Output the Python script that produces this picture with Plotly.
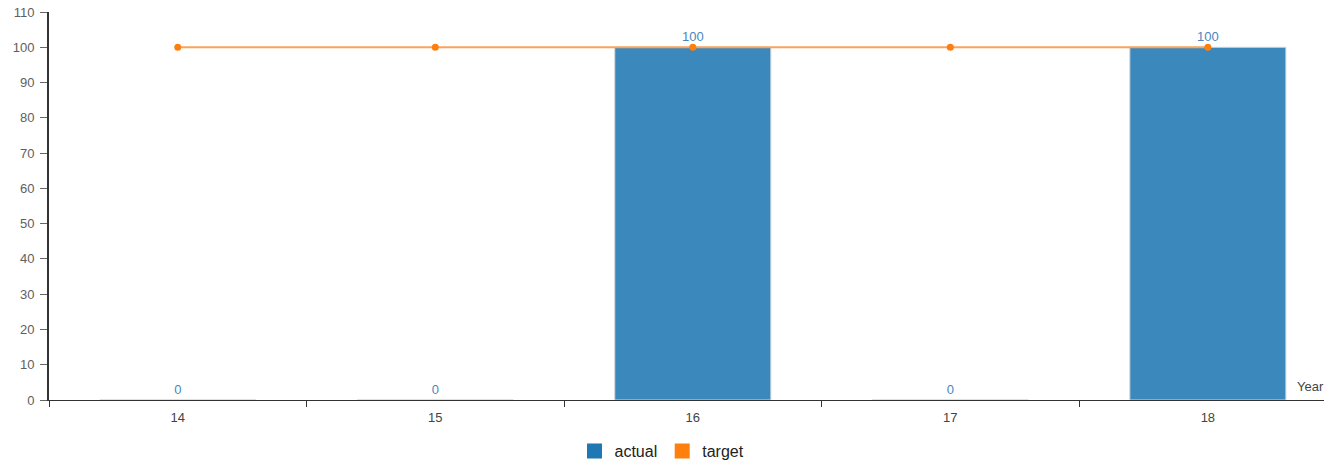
import plotly.graph_objects as go

# Yearly actual vs. target values
years = ["14", "15", "16", "17", "18"]
actual = [0, 0, 100, 0, 100]
target = [100, 100, 100, 100, 100]

BAR_BLUE = "#3b88bd"
LEGEND_BLUE = "#1f77b4"
ORANGE = "#ff7f0e"
LABEL_BLUE = "#4a86bd"
FONT = "Liberation Sans, Arial, sans-serif"

fig = go.Figure()

fig.add_trace(go.Bar(
    x=years, y=actual, name="actual",
    marker=dict(color=BAR_BLUE, line=dict(color="#cfd6dc", width=1)),
    width=0.606,
    text=[str(v) for v in actual], textposition="outside",
    textfont=dict(color=LABEL_BLUE, size=13, family=FONT),
    cliponaxis=False, showlegend=False,
))

fig.add_trace(go.Scatter(
    x=years, y=target, name="target", mode="lines+markers",
    line=dict(color="#fca35a", width=1.8),
    marker=dict(color=ORANGE, size=7),
    cliponaxis=False, showlegend=False,
))

# Legend entries drawn as square swatches
for name, color in (("actual", LEGEND_BLUE), ("target", ORANGE)):
    fig.add_trace(go.Scatter(
        x=[years[0]], y=[None], name=name, mode="markers",
        marker=dict(color=color, symbol="square", size=15),
    ))

fig.update_layout(
    width=1324, height=466,
    margin=dict(l=49, r=0, t=12, b=66),
    plot_bgcolor="white", paper_bgcolor="white",
    barmode="overlay",
    font=dict(family=FONT, size=13, color="#555"),
    showlegend=True,
    legend=dict(orientation="h", xref="container", yref="container",
                x=0.5, xanchor="center", y=0.032, yanchor="middle",
                font=dict(size=16, color="#222", family=FONT),
                itemwidth=30, bgcolor="rgba(0,0,0,0)"),
    xaxis=dict(type="category", range=[-0.5, 4.451],
               showline=True, linecolor="#333", linewidth=1,
               ticks="outside", tickson="boundaries", ticklen=6,
               tickcolor="#333", showgrid=False, zeroline=False,
               ticklabelstandoff=5,
               tickfont=dict(size=13, color="#444")),
    yaxis=dict(range=[0, 110], dtick=10, showline=True,
               linecolor="#333", linewidth=2,
               ticks="outside", ticklen=7, tickcolor="#666",
               ticklabelstandoff=3,
               showgrid=False, zeroline=False,
               tickfont=dict(size=13, color="#606060")),
    annotations=[dict(text="Year", xref="paper", yref="y",
                      x=0.977, y=3.7, xanchor="left", yanchor="middle",
                      showarrow=False, font=dict(size=13, color="#444"))],
)

fig.write_html("out.html")
